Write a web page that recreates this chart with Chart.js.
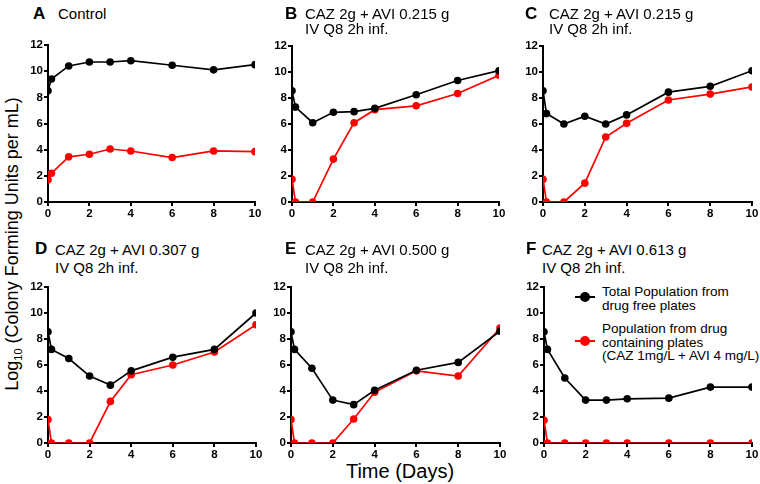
<!DOCTYPE html>
<html>
<head>
<meta charset="utf-8">
<script src="https://cdn.jsdelivr.net/npm/chart.js@4"></script>
<style>
  body { margin: 0; background: #fff; font-family: "Liberation Sans", Arial, sans-serif; }
  #page { position: relative; width: 760px; height: 484px; overflow: hidden; }
  .panel { position: absolute; }
  .ttl { position: absolute; font-size: 15px; color: #000; white-space: nowrap; font-weight: normal; }
  .lt { position: absolute; font-size: 17px; font-weight: bold; color: #000; }
  #ylab { position: absolute; left: 13px; top: 244px; font-size: 18px; white-space: nowrap;
          transform: translate(-50%, -50%) rotate(-90deg); }
  #ylab sub { font-size: 11px; }
  #xlab { position: absolute; left: 400px; top: 471px; font-size: 20px; transform: translate(-50%, -50%); white-space: nowrap; }
  #legend { position: absolute; left: 568px; top: 285px; font-size: 13.5px; line-height: 13.5px; }
  .lg { position: relative; padding-left: 34px; margin-bottom: 10px; }
  .lg .ln { position: absolute; left: 7px; width: 20px; height: 2px; }
  .lg .dt { position: absolute; left: 12px; width: 10px; height: 10px; border-radius: 50%; }
</style>
</head>
<body>
<div id="page">
  <div id="ylab">Log<sub>10</sub> (Colony Forming Units per mL)</div>
  <div id="xlab">Time (Days)</div>
  <div id="legend"></div>
</div>
<script>
// sampling times (days)
const days = [0, 0.167, 1, 2, 3, 4, 6, 8, 10];
const xTicks = [0, 2, 4, 6, 8, 10];
const yTicks = [0, 2, 4, 6, 8, 10, 12];
const seriesNames = ['Total Population from drug free plates',
                     'Population from drug containing plates (CAZ 1mg/L + AVI 4 mg/L)'];
const legendLines = [['Total Population from', 'drug free plates'],
                     ['Population from drug', 'containing plates', '(CAZ 1mg/L + AVI 4 mg/L)']];

// log10 CFU/mL
const totalA = [8.5, 9.4, 10.4, 10.7, 10.7, 10.8, 10.45, 10.1, 10.5];
const drugA  = [1.7, 2.2, 3.45, 3.65, 4.05, 3.9, 3.4, 3.9, 3.85];
const totalB = [8.55, 7.3, 6.1, 6.9, 6.95, 7.2, 8.25, 9.35, 10.1];
const drugB  = [1.75, 0, 0, 3.3, 6.1, 7.1, 7.4, 8.35, 9.75];
const totalC = [8.55, 6.8, 6.0, 6.6, 6.0, 6.7, 8.45, 8.9, 10.1];
const drugC  = [1.75, 0, 0, 1.45, 5.0, 6.05, 7.85, 8.3, 8.85];
const totalD = [8.55, 7.2, 6.5, 5.15, 4.45, 5.55, 6.6, 7.2, 10.0];
const drugD  = [1.8, 0, 0, 0, 3.2, 5.25, 6.0, 7.0, 9.1];
const totalE = [8.55, 7.2, 5.75, 3.3, 2.95, 4.05, 5.6, 6.2, 8.6];
const drugE  = [1.8, 0, 0, 0, 1.85, 3.9, 5.55, 5.15, 8.85];
const totalF = [8.55, 7.2, 5.0, 3.3, 3.3, 3.4, 3.45, 4.3, 4.3];
const drugF  = [1.75, 0, 0, 0, 0, 0, 0, 0, 0];

const colors = ['#000000', '#ff0000'];

// plot-area boxes: left (x=0), right (x=10), top (y=12), bottom (y=0)
const panels = [
  { id: 'A', title: ['Control'], total: totalA, drug: drugA, box: [48, 255, 45, 202], lx: 33, tx: 58, ty: 3, lh: 15 },
  { id: 'B', title: ['CAZ 2g + AVI 0.215 g', 'IV Q8 2h inf.'], total: totalB, drug: drugB, box: [292, 499, 46, 202], lx: 285, tx: 305, ty: 3, lh: 15 },
  { id: 'C', title: ['CAZ 2g + AVI 0.215 g', 'IV Q8 2h inf.'], total: totalC, drug: drugC, box: [543, 752, 46, 202], lx: 525, tx: 549, ty: 3, lh: 15 },
  { id: 'D', title: ['CAZ 2g + AVI 0.307 g', 'IV Q8 2h inf.'], total: totalD, drug: drugD, box: [48, 256, 287, 443], lx: 35, tx: 55, ty: 238, lh: 18 },
  { id: 'E', title: ['CAZ 2g + AVI 0.500 g', 'IV Q8 2h inf.'], total: totalE, drug: drugE, box: [291, 500, 287, 443], lx: 285, tx: 305, ty: 238, lh: 18 },
  { id: 'F', title: ['CAZ 2g + AVI 0.613 g', 'IV Q8 2h inf.'], total: totalF, drug: drugF, box: [544, 752, 287, 443], lx: 526, tx: 542, ty: 238, lh: 18 }
];

const YW = 30, XH = 24, PT = 8, PR = 10;
const page = document.getElementById('page');
const tickFont = { family: '"Liberation Sans", Arial, sans-serif', size: 11.5, weight: 'bold' };

function axis(min, max, ticks) {
  return {
    type: 'linear', min: min, max: max,
    afterBuildTicks: s => { s.ticks = ticks.map(v => ({ value: v })); },
    border: { color: '#000', width: 2 },
    grid: { drawOnChartArea: false, drawTicks: true, tickLength: 4, color: '#000', lineWidth: 2 },
    ticks: { color: '#000', font: tickFont, padding: 1, maxRotation: 0, autoSkip: false }
  };
}

panels.forEach(p => {
  const [l, r, t, b] = p.box;
  const w = (r - l) + YW + PR, h = (b - t) + PT + XH;
  const div = document.createElement('div');
  div.className = 'panel';
  div.style.left = (l - YW) + 'px';
  div.style.top = (t - PT) + 'px';
  const cv = document.createElement('canvas');
  cv.width = w; cv.height = h;
  cv.style.width = w + 'px'; cv.style.height = h + 'px';
  div.appendChild(cv);
  page.appendChild(div);

  const lt = document.createElement('div');
  lt.className = 'lt'; lt.textContent = p.id;
  lt.style.left = p.lx + 'px'; lt.style.top = (p.ty + 1) + 'px';
  page.appendChild(lt);
  const tt = document.createElement('div');
  tt.className = 'ttl'; tt.innerHTML = p.title.join('<br>');
  tt.style.lineHeight = p.lh + 'px';
  tt.style.left = p.tx + 'px'; tt.style.top = (p.ty + 3) + 'px';
  page.appendChild(tt);

  const xs = axis(0, 10, xTicks);
  xs.afterFit = s => { s.height = XH; };
  const ys = axis(0, 12, yTicks);
  ys.afterFit = s => { s.width = YW; };

  new Chart(cv.getContext('2d'), {
    type: 'line',
    data: {
      datasets: [p.total, p.drug].map((vals, i) => ({
        label: seriesNames[i],
        data: days.map((d, k) => ({ x: d, y: vals[k] })),
        borderColor: colors[i],
        backgroundColor: colors[i],
        borderWidth: 1.7,
        pointRadius: 3.8,
        pointBorderWidth: 0,
        tension: 0
      }))
    },
    options: {
      responsive: false,
      animation: false,
      layout: { padding: { top: PT, right: PR, left: 0, bottom: 0 }, autoPadding: false },
      plugins: { legend: { display: false }, tooltip: { enabled: false } },
      scales: { x: xs, y: ys }
    }
  });
});

// legend drawn beside panel F
const lg = document.getElementById('legend');
legendLines.forEach((lines, i) => {
  const item = document.createElement('div');
  item.className = 'lg';
  item.title = seriesNames[i];
  const mid = lines.length === 2 ? 12 : 19;
  item.innerHTML = '<span class="ln" style="top:' + (mid - 1) + 'px;background:' + colors[i] + '"></span>' +
                   '<span class="dt" style="top:' + (mid - 5) + 'px;background:' + colors[i] + '"></span>' +
                   lines.join('<br>');
  lg.appendChild(item);
});
</script>
</body>
</html>
